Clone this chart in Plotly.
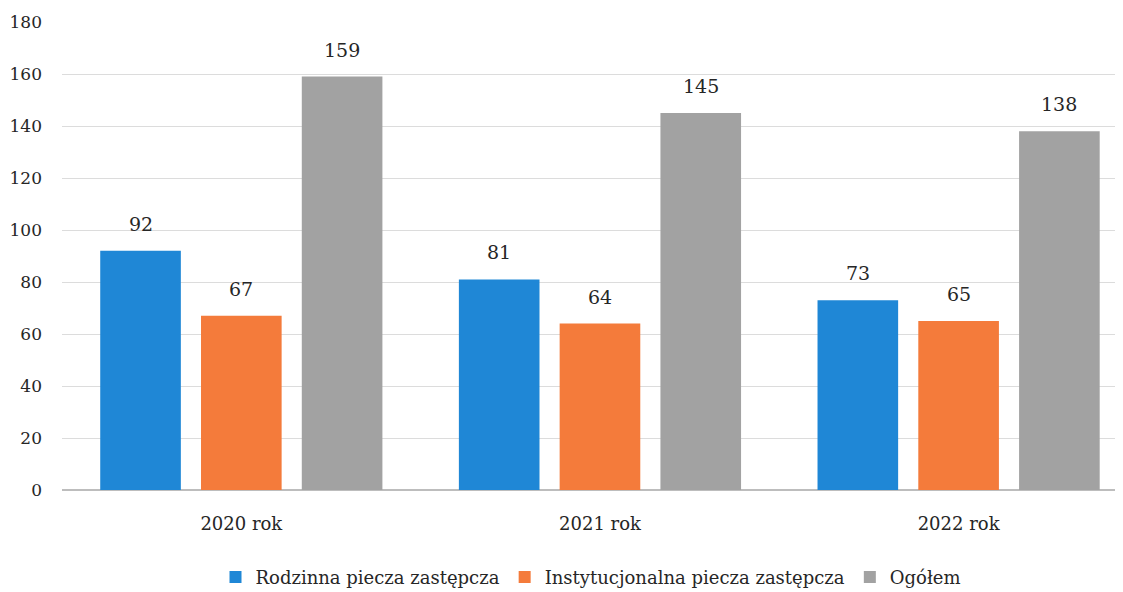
import plotly.graph_objects as go

categories = ["2020 rok", "2021 rok", "2022 rok"]
series_names = ["Rodzinna piecza zastępcza", "Instytucjonalna piecza zastępcza", "Ogółem"]
rodzinna = [92, 81, 73]
instytucjonalna = [67, 64, 65]
ogolem = [159, 145, 138]
y_ticks = [0, 20, 40, 60, 80, 100, 120, 140, 160, 180]

series_values = [rodzinna, instytucjonalna, ogolem]
colors = ["#1f87d6", "#f47b3b", "#a2a2a2"]
FONT = "DejaVu Serif"
TXT = "#262626"

fig = go.Figure()
for name, vals, col in zip(series_names, series_values, colors):
    fig.add_trace(go.Bar(name=name, x=categories, y=vals, marker=dict(color=col, line=dict(width=0))))

# value labels above bars
bargap, bargroupgap = 0.157, 0.2
slot = (1 - bargap) / 3
annotations = []
for si, vals in enumerate(series_values):
    off = (si - 1) * slot
    for ci, v in enumerate(vals):
        annotations.append(dict(x=ci + off, y=v, xref="x", yref="y", text=str(v),
                                showarrow=False, yanchor="middle", yshift=27,
                                font=dict(family=FONT, size=19, color=TXT)))

# page body has an 8px default margin, so the figure is drawn 8px in from the corner
fig.update_layout(
    width=1115, height=584,
    margin=dict(l=54, r=3, t=14, b=102, autoexpand=False),
    paper_bgcolor="white", plot_bgcolor="white",
    barmode="group", bargap=bargap, bargroupgap=bargroupgap,
    font=dict(family=FONT, size=18, color=TXT),
    annotations=annotations,
    showlegend=True,
    legend=dict(orientation="h", x=0.5, xanchor="center", yref="container", y=0.025, yanchor="middle",
                font=dict(family=FONT, size=18, color=TXT), itemwidth=30,
                traceorder="normal"),
    xaxis=dict(range=[-0.5, 2.45], showgrid=False, showline=False, zeroline=False, automargin=False,
               ticks="outside", ticklen=17, tickcolor="rgba(0,0,0,0)",
               tickfont=dict(family=FONT, size=18, color=TXT)),
    yaxis=dict(range=[0, 180], tickvals=y_ticks, showgrid=True, gridcolor="#dcdcdc", gridwidth=1,
               zeroline=True, zerolinecolor="#bdbdbd", zerolinewidth=2, showline=False, automargin=False,
               ticklabelstandoff=19, tickfont=dict(family=FONT, size=17, color=TXT)),
)

fig.write_html("out.html")
